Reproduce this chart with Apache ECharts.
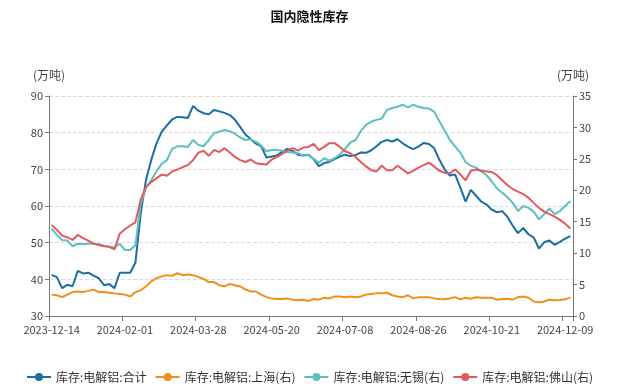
<!DOCTYPE html>
<html>
<head>
<meta charset="utf-8">
<script src="https://cdn.jsdelivr.net/npm/echarts@6/dist/echarts.min.js"></script>
<style>
html,body{margin:0;padding:0;background:#fff;}
#chart{width:619px;height:390px;}
</style>
</head>
<body>
<div id="chart"></div>
<script>
const dates = [
"2023-12-14","2023-12-18","2023-12-21","2023-12-25","2023-12-28","2024-01-01","2024-01-04","2024-01-08","2024-01-11","2024-01-15",
"2024-01-18","2024-01-22","2024-01-25","2024-01-29","2024-02-01","2024-02-05","2024-02-08","2024-02-19","2024-02-22","2024-02-26",
"2024-02-29","2024-03-04","2024-03-07","2024-03-11","2024-03-14","2024-03-18","2024-03-21","2024-03-25","2024-03-28","2024-04-01",
"2024-04-04","2024-04-08","2024-04-11","2024-04-15","2024-04-18","2024-04-22","2024-04-25","2024-04-29","2024-05-06","2024-05-09",
"2024-05-13","2024-05-16","2024-05-20","2024-05-23","2024-05-27","2024-05-30","2024-06-03","2024-06-06","2024-06-10","2024-06-13",
"2024-06-17","2024-06-20","2024-06-24","2024-06-27","2024-07-01","2024-07-04","2024-07-08","2024-07-11","2024-07-15","2024-07-18",
"2024-07-22","2024-07-25","2024-07-29","2024-08-01","2024-08-05","2024-08-08","2024-08-12","2024-08-15","2024-08-19","2024-08-22",
"2024-08-26","2024-08-29","2024-09-02","2024-09-05","2024-09-09","2024-09-12","2024-09-16","2024-09-19","2024-09-23","2024-09-26",
"2024-09-30","2024-10-10","2024-10-14","2024-10-17","2024-10-21","2024-10-24","2024-10-28","2024-10-31","2024-11-04","2024-11-07",
"2024-11-11","2024-11-14","2024-11-18","2024-11-21","2024-11-25","2024-11-28","2024-12-02","2024-12-05","2024-12-09","2024-12-12"
];

const totalStock = [
41.2,40.6,37.6,38.5,38.1,42.3,41.6,41.8,41.0,40.3,
38.4,38.7,37.6,41.8,41.8,41.8,44.6,58.0,67.0,72.5,
77.0,80.2,82.0,83.6,84.3,84.2,84.0,87.3,86.0,85.3,
85.0,86.2,85.8,85.4,84.8,83.5,81.5,79.5,78.2,77.0,
76.3,73.2,73.5,73.8,74.8,75.6,75.0,74.0,73.8,74.0,
72.8,70.9,71.7,72.0,72.8,73.5,74.0,73.6,73.9,74.6,
74.5,75.2,76.3,77.5,78.0,77.6,78.2,77.1,76.2,75.5,
76.2,77.2,76.9,75.8,72.6,70.0,68.3,68.6,65.0,61.2,
64.4,62.8,61.2,60.4,59.0,58.3,58.6,57.0,54.6,52.6,
54.0,52.3,51.4,48.4,50.1,50.6,49.4,50.2,51.1,51.8
];

const shanghaiStock = [
3.4,3.3,3.0,3.4,3.8,3.9,3.8,4.0,4.2,3.8,
3.8,3.7,3.6,3.5,3.4,3.1,3.8,4.1,4.7,5.5,
6.0,6.3,6.5,6.4,6.8,6.5,6.6,6.5,6.2,5.9,
5.4,5.4,4.9,4.7,5.1,4.9,4.7,4.2,3.9,3.9,
3.4,3.0,2.8,2.7,2.7,2.8,2.6,2.5,2.6,2.4,
2.7,2.6,2.9,2.8,3.1,3.1,3.0,3.1,3.0,3.1,
3.4,3.5,3.6,3.6,3.7,3.3,3.1,3.0,3.3,2.8,
3.0,3.0,3.0,2.8,2.7,2.65,2.8,3.0,2.65,2.9,
2.75,2.97,2.9,2.9,2.9,2.6,2.7,2.75,2.6,3.0,
3.1,2.9,2.3,2.2,2.3,2.6,2.5,2.55,2.65,2.97
];

const wuxiStock = [
13.9,12.9,12.1,12.0,11.1,11.5,11.4,11.5,11.5,11.4,
11.2,11.0,10.9,11.5,10.5,10.5,11.3,17.8,20.4,21.6,
23.0,24.2,24.8,26.6,27.0,27.0,26.9,28.0,27.2,27.0,
28.0,29.1,29.3,29.6,29.4,29.0,28.4,28.0,28.1,27.7,
27.1,26.2,26.4,26.4,26.3,26.1,26.0,25.9,25.5,25.6,
25.0,24.4,25.1,24.7,25.1,25.7,26.6,27.6,28.0,29.4,
30.4,30.9,31.2,31.4,32.8,33.1,33.3,33.6,33.2,33.6,
33.3,33.1,33.0,32.5,31.0,29.5,28.0,27.0,26.0,24.5,
23.9,23.6,23.0,22.4,21.4,20.3,19.6,18.9,18.0,16.7,
17.5,17.2,16.6,15.4,16.2,17.1,16.2,16.7,17.5,18.3
];

const foshanStock = [
14.5,13.7,12.8,12.5,12.1,12.9,12.4,12.0,11.5,11.3,
11.1,11.0,10.6,13.1,13.8,14.4,14.9,18.5,20.5,21.3,
21.9,22.5,22.3,23.0,23.3,23.7,24.0,24.8,26.0,26.3,
25.5,26.4,26.1,26.7,26.0,25.3,24.8,24.5,24.9,24.3,
24.2,24.1,24.9,25.3,25.8,26.3,26.7,26.3,26.8,26.9,
27.4,26.4,26.9,27.5,27.5,26.9,26.2,25.9,25.3,24.5,
23.8,23.2,23.0,23.9,23.2,23.2,23.9,23.3,22.7,23.1,
23.6,24.0,24.4,23.8,23.1,22.8,22.7,23.3,22.5,21.6,
23.1,23.3,23.1,23.0,22.9,22.4,21.6,20.8,20.2,19.8,
19.4,18.8,18.0,17.2,16.6,16.2,15.8,15.3,14.7,13.9
];

const seriesNames = ["库存:电解铝:合计","库存:电解铝:上海(右)","库存:电解铝:无锡(右)","库存:电解铝:佛山(右)"];
const seriesColors = ["#1b6f9f","#f28e1c","#5dbfbf","#e05a5f"];

const FONT = '"Noto Sans CJK SC","Liberation Sans",sans-serif';
const chart = echarts.init(document.getElementById('chart'), null, {renderer:'canvas'});

function lineSeries(i, data, axisIdx){
  return {
    name: seriesNames[i], type:'line', data: data, yAxisIndex: axisIdx,
    showSymbol:false, symbol:'circle', symbolSize:6,
    lineStyle:{width:2, color:seriesColors[i]},
    itemStyle:{color:seriesColors[i]},
    emphasis:{disabled:true}, animation:false
  };
}

chart.setOption({
  animation:false,
  textStyle:{fontFamily:FONT},
  title:{text:'国内隐性库存', left:'center', top:5,
    textStyle:{fontSize:13, fontWeight:'bold', color:'#111', fontFamily:FONT}},
  legend:{bottom:2, left:'center', itemWidth:24, itemHeight:10, itemGap:8,
    textStyle:{fontSize:12, color:'#333', fontFamily:FONT},
    data: seriesNames},
  grid:{left:49, right:46, top:96, bottom:74},
  xAxis:{type:'category', data:dates, boundaryGap:true,
    axisLine:{lineStyle:{color:'#777'}},
    axisTick:{show:true, interval:13, length:5, lineStyle:{color:'#777'}},
    axisLabel:{interval:13, fontSize:11, color:'#444', margin:8, fontFamily:FONT}},
  yAxis:[
    {type:'value', min:30, max:90, interval:10, position:'left',
     name:'(万吨)', nameGap:15, nameTextStyle:{fontSize:12, color:'#444', fontFamily:FONT},
     axisLine:{show:true, lineStyle:{color:'#777'}},
     axisTick:{show:true, length:4, lineStyle:{color:'#777'}},
     axisLabel:{fontSize:11, color:'#444', margin:6, fontFamily:FONT},
     splitLine:{show:true, lineStyle:{type:'dashed', color:'#dcdcdc'}}},
    {type:'value', min:0, max:35, interval:5, position:'right',
     name:'(万吨)', nameGap:15, nameTextStyle:{fontSize:12, color:'#444', fontFamily:FONT},
     axisLine:{show:true, lineStyle:{color:'#777'}},
     axisTick:{show:true, length:4, lineStyle:{color:'#777'}},
     axisLabel:{fontSize:11, color:'#444', margin:6, fontFamily:FONT},
     splitLine:{show:false}}
  ],
  series:[
    lineSeries(0, totalStock, 0),
    lineSeries(1, shanghaiStock, 1),
    lineSeries(2, wuxiStock, 1),
    lineSeries(3, foshanStock, 1)
  ]
});
</script>
</body>
</html>
